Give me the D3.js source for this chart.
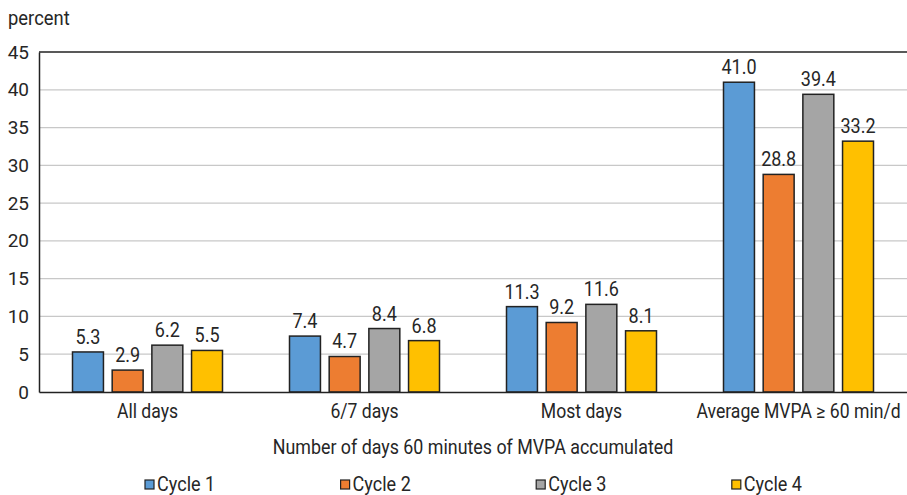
<!DOCTYPE html>
<html><head><meta charset="utf-8">
<script src="https://cdn.jsdelivr.net/npm/d3@7"></script>
<style>
body{margin:0;background:#fff;}
text{font-family:Roboto,sans-serif;fill:#262626;}
</style></head><body>
<svg id="c" width="907" height="495"></svg>
<script>
const categories = ["All days", "6/7 days", "Most days", "Average MVPA \u2265 60 min/d"];
const seriesNames = ["Cycle 1", "Cycle 2", "Cycle 3", "Cycle 4"];
const cycle1 = [5.3, 7.4, 11.3, 41.0];
const cycle2 = [2.9, 4.7, 9.2, 28.8];
const cycle3 = [6.2, 8.4, 11.6, 39.4];
const cycle4 = [5.5, 6.8, 8.1, 33.2];
const yTicks = [0, 5, 10, 15, 20, 25, 30, 35, 40, 45];
const colors = ["#5B9BD5", "#ED7D31", "#A5A5A5", "#FFC000"];

const series = [cycle1, cycle2, cycle3, cycle4];
const svg = d3.select("#c");
const L = 39, R = 907, T = 52, B = 392;

const y = d3.scaleLinear().domain([0, 45]).range([B, T]);
const x0 = d3.scaleBand().domain(categories).range([L, R]).padding(0);
const x1 = d3.scaleBand().domain(seriesNames).range([33.5, 183.5]).paddingInner(0.22).paddingOuter(0);

// gridlines
svg.append("g").selectAll("line").data(yTicks.filter(t => t > 0 && t < 45)).join("line")
  .attr("x1", L).attr("x2", R).attr("y1", d => y(d)).attr("y2", d => y(d))
  .attr("stroke", "#c8c8c8").attr("stroke-width", 1.3);

// top border
svg.append("line").attr("x1", L).attr("x2", R).attr("y1", y(45)).attr("y2", y(45))
  .attr("stroke", "#222").attr("stroke-width", 1.5);

// y axis
const yAxis = d3.axisLeft(y).tickValues(yTicks).tickSize(0).tickPadding(10);
const gy = svg.append("g").attr("transform", `translate(${L},0)`).call(yAxis);
gy.select(".domain").attr("stroke", "#222").attr("stroke-width", 1.5);
gy.selectAll("text").style("font-size", "19px").attr("fill", "#262626")
  .style("font-family", "Roboto,sans-serif");

// bars
const groups = svg.append("g").selectAll("g").data(categories).join("g")
  .attr("transform", d => `translate(${x0(d)},0)`);
groups.each(function(cat, ci) {
  const g = d3.select(this);
  const data = seriesNames.map((s, si) => ({s, si, v: series[si][ci]}));
  g.selectAll("rect").data(data).join("rect")
    .attr("x", d => x1(d.s)).attr("width", x1.bandwidth())
    .attr("y", d => y(d.v)).attr("height", d => B - y(d.v))
    .attr("fill", d => colors[d.si]).attr("stroke", "#222").attr("stroke-width", 1.5);
  g.selectAll("text").data(data).join("text")
    .attr("transform", d => `translate(${x1(d.s) + x1.bandwidth() / 2},${y(d.v) - 8}) scale(0.9,1)`)
    .attr("text-anchor", "middle").style("font-size", "20px")
    .text(d => d.v.toFixed(1));
});

// x axis
const xAxis = d3.axisBottom(x0).tickSize(0).tickPadding(10);
const gx = svg.append("g").attr("transform", `translate(0,${B})`).call(xAxis);
gx.select(".domain").attr("stroke", "#222").attr("stroke-width", 1.5);
gx.selectAll("text").style("font-size", "20px").attr("fill", "#262626")
  .style("font-family", "Roboto,sans-serif")
  .attr("dy", null).attr("y", 26).attr("transform", "scale(0.88,1)");

// y title
svg.append("text").attr("transform", "translate(8,25) scale(0.92,1)").style("font-size", "20px").text("percent");

// x title
svg.append("text").attr("transform", `translate(${(L + R) / 2},454) scale(0.85,1)`).attr("text-anchor", "middle")
  .style("font-size", "21px").text("Number of days 60 minutes of MVPA accumulated");

// legend
const leg = svg.append("g").selectAll("g").data(seriesNames).join("g")
  .attr("transform", (d, i) => `translate(${145 + i * 195.6},480)`);
leg.append("rect").attr("x", 0).attr("y", 0).attr("width", 9).attr("height", 9)
  .attr("fill", (d, i) => colors[i]).attr("stroke", "#222").attr("stroke-width", 1.2);
leg.append("text").attr("transform", "translate(12,11) scale(0.86,1)")
  .style("font-size", "21px").text(d => d);
</script></body></html>
